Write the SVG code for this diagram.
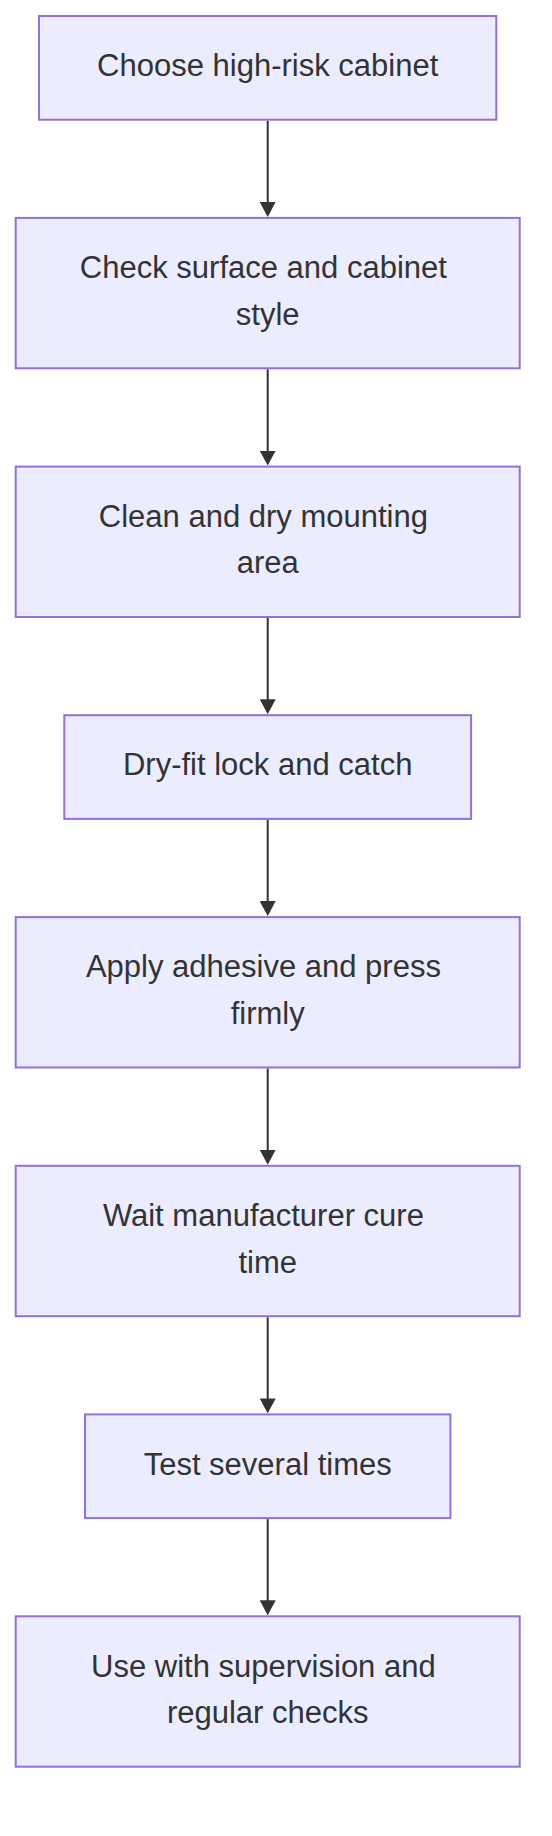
<svg xmlns="http://www.w3.org/2000/svg" width="552" height="1836" viewBox="0 0 552 1836">
<style>
.node rect{fill:#ECECFF;stroke:#9370DB;stroke-width:2;}
.node text{font-family:"Liberation Sans",Arial,Helvetica,sans-serif;font-size:31px;fill:#333333;text-anchor:middle;}
.edges path{stroke:#333333;stroke-width:2;fill:none;}
</style>
<defs>
<marker id="arrow" viewBox="0 0 15 16" refX="1" refY="8" markerWidth="15" markerHeight="16" markerUnits="userSpaceOnUse" orient="auto">
<path d="M0,0 L15,8 L0,16 z" fill="#333333"/>
</marker>
</defs>
<rect width="552" height="1836" fill="#ffffff"/>
<g class="edges">
<path d="M267.7,120.7 L267.7,202.9" marker-end="url(#arrow)"/>
<path d="M267.7,369.3 L267.7,451.6" marker-end="url(#arrow)"/>
<path d="M267.7,618 L267.7,700.2" marker-end="url(#arrow)"/>
<path d="M267.7,819.9 L267.7,902.1" marker-end="url(#arrow)"/>
<path d="M267.7,1068.5 L267.7,1150.8" marker-end="url(#arrow)"/>
<path d="M267.7,1317.2 L267.7,1399.4" marker-end="url(#arrow)"/>
<path d="M267.7,1519.1 L267.7,1601.3" marker-end="url(#arrow)"/>
</g>
<g id="n1" class="node">
<rect x="39" y="16" width="457.3" height="103.7"/>
<text x="267.7" y="76.2">Choose high-risk cabinet</text>
</g>
<g id="n2" class="node">
<rect x="15.7" y="217.9" width="504" height="150.4"/>
<text x="263.4" y="278.2">Check surface and cabinet</text>
<text x="267.7" y="324.7">style</text>
</g>
<g id="n3" class="node">
<rect x="15.7" y="466.6" width="504" height="150.4"/>
<text x="263.4" y="526.8">Clean and dry mounting</text>
<text x="267.7" y="573.3">area</text>
</g>
<g id="n4" class="node">
<rect x="64.3" y="715.2" width="406.8" height="103.7"/>
<text x="267.7" y="775.3">Dry-fit lock and catch</text>
</g>
<g id="n5" class="node">
<rect x="15.7" y="917.1" width="504" height="150.4"/>
<text x="263.4" y="977.4">Apply adhesive and press</text>
<text x="267.7" y="1023.9">firmly</text>
</g>
<g id="n6" class="node">
<rect x="15.7" y="1165.8" width="504" height="150.4"/>
<text x="263.4" y="1226">Wait manufacturer cure</text>
<text x="267.7" y="1272.5">time</text>
</g>
<g id="n7" class="node">
<rect x="85" y="1414.4" width="365.4" height="103.7"/>
<text x="267.7" y="1474.5">Test several times</text>
</g>
<g id="n8" class="node">
<rect x="15.7" y="1616.3" width="504" height="150.4"/>
<text x="263.4" y="1676.6">Use with supervision and</text>
<text x="267.7" y="1723.1">regular checks</text>
</g>
</svg>
